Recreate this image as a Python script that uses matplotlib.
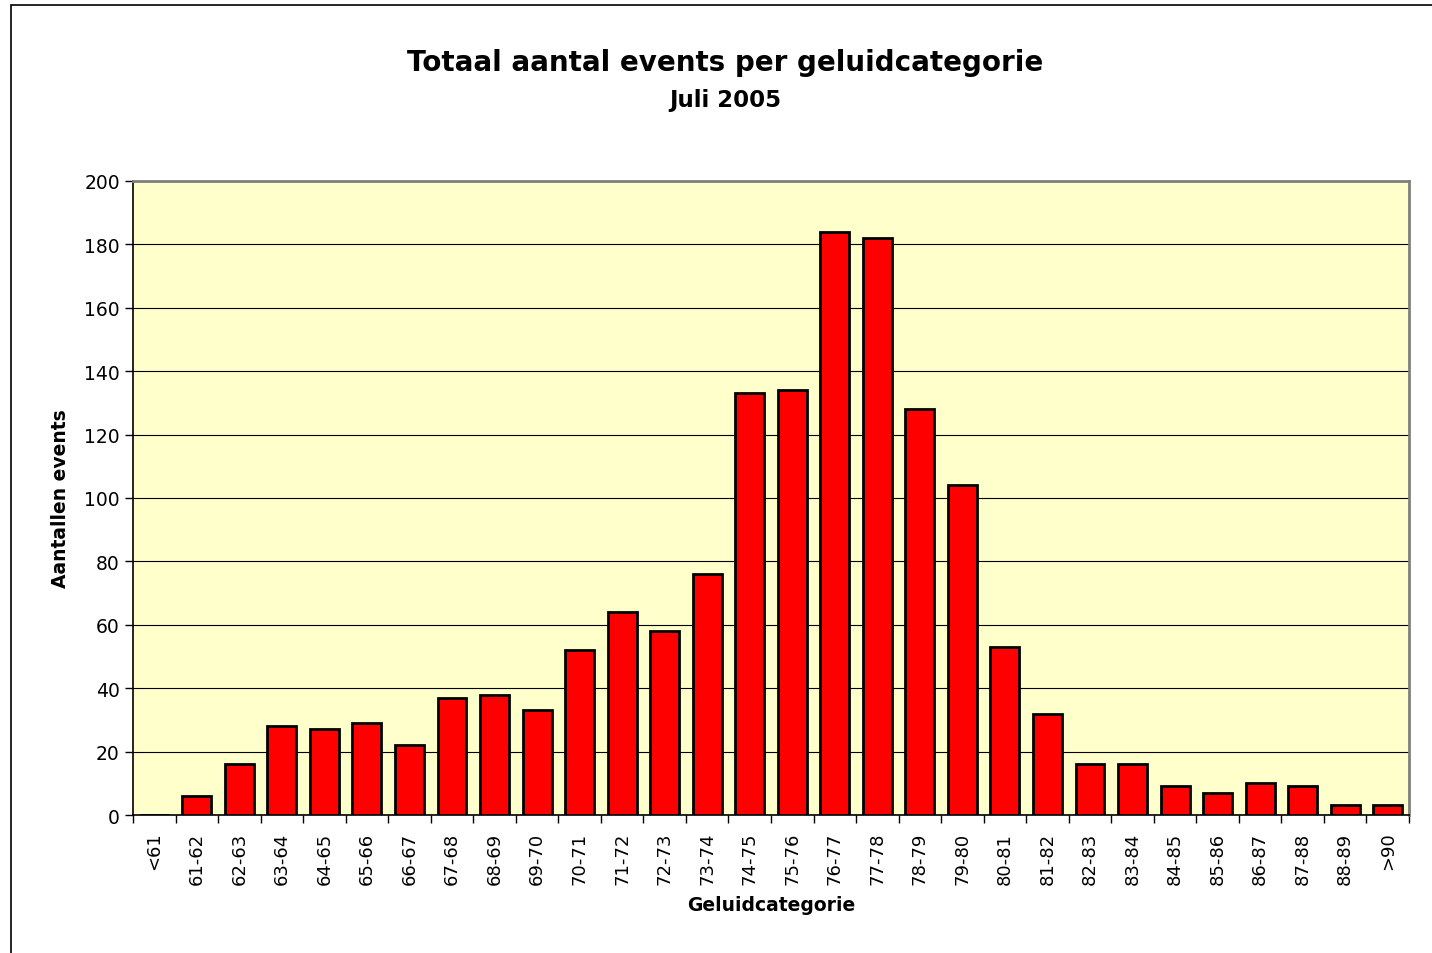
import matplotlib
matplotlib.use("Agg")
import matplotlib.pyplot as plt
from matplotlib.patches import Rectangle

categories = ["<61", "61-62", "62-63", "63-64", "64-65", "65-66", "66-67", "67-68",
              "68-69", "69-70", "70-71", "71-72", "72-73", "73-74", "74-75", "75-76",
              "76-77", "77-78", "78-79", "79-80", "80-81", "81-82", "82-83", "83-84",
              "84-85", "85-86", "86-87", "87-88", "88-89", ">90"]
values = [0, 6, 16, 28, 27, 29, 22, 37, 38, 33, 52, 64, 58, 76, 133, 134,
          184, 182, 128, 104, 53, 32, 16, 16, 9, 7, 10, 9, 3, 3]
yticks = [0, 20, 40, 60, 80, 100, 120, 140, 160, 180, 200]

plt.rcParams['font.family'] = ['DejaVu Sans']

fig = plt.figure(figsize=(14.32, 9.54), dpi=100)
W, H = 1432, 954
ax = fig.add_axes([133 / W, 1 - 816 / H, (1409 - 133) / W, (816 - 182) / H])
ax.set_facecolor('#FFFFCC')

x = list(range(len(categories)))
ax.bar(x, values, width=0.68, color='#FF0000', edgecolor='black', linewidth=2, zorder=3)

ax.set_xlim(-0.5, len(categories) - 0.5)
ax.set_ylim(0, 200)
ax.set_yticks(yticks)
ax.set_yticklabels([str(v) for v in yticks], fontsize=13.5)
ax.yaxis.grid(True, color='black', linewidth=0.8, zorder=1)
ax.set_axisbelow(True)

# x ticks between categories
ax.set_xticks([i - 0.5 for i in range(len(categories) + 1)], minor=False)
ax.set_xticklabels([])
ax.set_xticks(x, minor=True)
ax.set_xticklabels(categories, minor=True, rotation=90, fontsize=13)
ax.tick_params(axis='x', which='minor', length=0, pad=12)
ax.tick_params(axis='x', which='major', length=6, width=1, direction='out')
ax.tick_params(axis='y', length=6, width=1, direction='out')

for s in ['left', 'bottom']:
    ax.spines[s].set_color('black')
    ax.spines[s].set_linewidth(1.2)
for s in ['top', 'right']:
    ax.spines[s].set_color('#808080')
    ax.spines[s].set_linewidth(2)

ax.set_xlabel('Geluidcategorie', fontsize=13.5, fontweight='bold', labelpad=8)
ax.set_ylabel('Aantallen events', fontsize=13.5, fontweight='bold', labelpad=10)

fig.text(725 / W, 1 - 63 / H, 'Totaal aantal events per geluidcategorie',
         ha='center', va='center', fontsize=20, fontweight='bold')
fig.text(725 / W, 1 - 100 / H, 'Juli 2005',
         ha='center', va='center', fontsize=16.5, fontweight='bold')

# outer chart border (cut off at right and bottom)
fig.patches.append(Rectangle((10.5 / W, -0.1), 1.2, 1.1 - 5.5 / H,
                             transform=fig.transFigure, fill=False,
                             edgecolor='black', linewidth=1.2))

fig.savefig('out.png', dpi=100)
